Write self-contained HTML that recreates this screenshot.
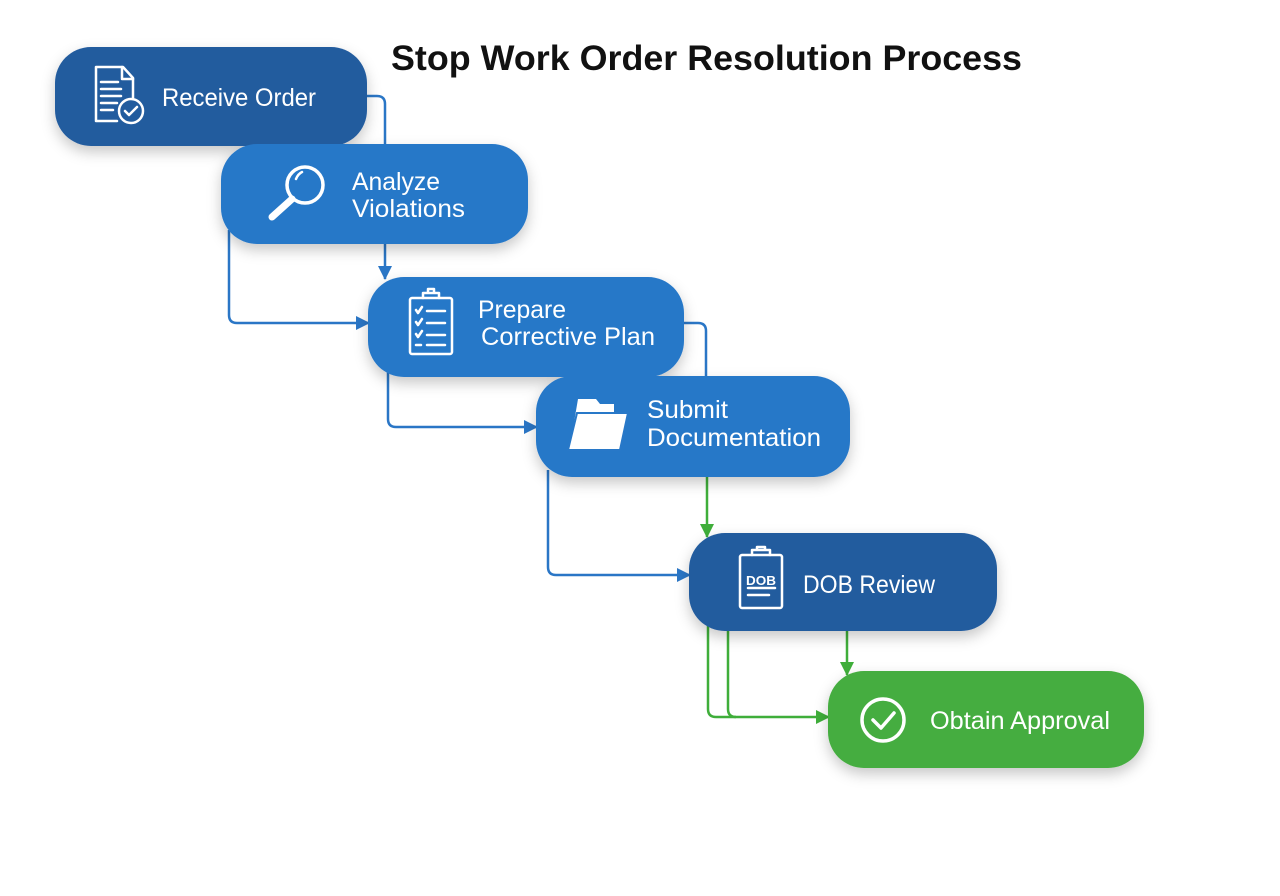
<!DOCTYPE html>
<html><head><meta charset="utf-8"><style>
html,body{margin:0;padding:0;background:#fff;}
svg{display:block;}
text{font-family:"Liberation Sans",sans-serif;}
</style></head><body>
<svg width="1280" height="896" viewBox="0 0 1280 896" xmlns="http://www.w3.org/2000/svg">
<defs>
<filter id="sh" x="-20%" y="-30%" width="140%" height="170%"><feDropShadow dx="0" dy="6" stdDeviation="7" flood-color="#000" flood-opacity="0.22"/></filter>
<marker id="ab" markerWidth="14" markerHeight="14" refX="13" refY="7" orient="auto" markerUnits="userSpaceOnUse"><path d="M0,0 L14,7 L0,14 Z" fill="#2a76c6"/></marker>
<marker id="ag" markerWidth="14" markerHeight="14" refX="13" refY="7" orient="auto" markerUnits="userSpaceOnUse"><path d="M0,0 L14,7 L0,14 Z" fill="#3fae3a"/></marker>
</defs>
<text x="391" y="70" font-size="35" font-weight="bold" fill="#111" textLength="631" lengthAdjust="spacingAndGlyphs">Stop Work Order Resolution Process</text>

<g fill="none" stroke-width="2.5">
<path d="M367,96 H377 Q385,96 385,104 V146" stroke="#2a76c6"/>
<path d="M385,244 V279" stroke="#2a76c6" marker-end="url(#ab)"/>
<path d="M229,230 V315 Q229,323 237,323 H369" stroke="#2a76c6" marker-end="url(#ab)"/>
<path d="M684,323 H698 Q706,323 706,331 V378" stroke="#2a76c6"/>
<path d="M388,370 V419 Q388,427 396,427 H537" stroke="#2a76c6" marker-end="url(#ab)"/>
<path d="M548,470 V567 Q548,575 556,575 H690" stroke="#2a76c6" marker-end="url(#ab)"/>
<path d="M707,477 V537" stroke="#3fae3a" marker-end="url(#ag)"/>
<path d="M847,631 V675" stroke="#3fae3a" marker-end="url(#ag)"/>
<path d="M708,625 V709 Q708,717 716,717 H829" stroke="#3fae3a" marker-end="url(#ag)"/>
<path d="M728,625 V709 Q728,717 736,717" stroke="#3fae3a"/>
</g>

<g filter="url(#sh)">
<rect x="55" y="47" width="312" height="99" rx="36" fill="#245b9e"/>
<rect x="221" y="144" width="307" height="100" rx="36" fill="#2878c8"/>
<rect x="368" y="277" width="316" height="100" rx="36" fill="#2878c8"/>
<rect x="536" y="376" width="314" height="101" rx="36" fill="#2878c8"/>
<rect x="689" y="533" width="308" height="98" rx="36" fill="#245b9e"/>
<rect x="828" y="671" width="316" height="97" rx="36" fill="#45ad3f"/>
</g>

<g fill="none" stroke="#fff" stroke-width="2.5" stroke-linecap="round" stroke-linejoin="round">
<path d="M117,121 H96 V67 H123 L133,78 V98"/><path d="M122,67 V79 H133"/>
<path d="M101,82 H118 M101,89 H121 M101,96 H121 M101,103 H117 M101,110 H113"/>
<circle cx="131" cy="111" r="12" stroke-width="2.5"/><path d="M125,111 L129,115 L137,107"/>
<circle cx="305" cy="185" r="18" stroke-width="3.5"/>
<path d="M292,199 L272,217" stroke-width="7"/>
<path d="M296,179 Q298,174 302,172"/>
<rect x="410" y="298" width="42" height="56" rx="2"/><path d="M423,298 V293 H439 V298 M428,293 V289 H434 V293"/>
<path d="M416,310 L418,313 L422,307 M416,322 L418,325 L422,319 M416,334 L418,337 L422,331 M416,345 H421 M427,311 H445 M427,323 H445 M427,335 H445 M427,345 H445"/>
<rect x="740" y="555" width="42" height="53" rx="2"/><path d="M752,555 V550 H770 V555 M757,550 V547 H765 V550"/>
<path d="M748,588 H775 M748,595 H769"/>
<circle cx="883" cy="720" r="21" stroke-width="3.5"/><path d="M873,720 L881,728 L894,713" stroke-width="3.5"/>
</g>
<text x="746" y="585" font-size="13" font-weight="bold" fill="#fff" textLength="30" lengthAdjust="spacingAndGlyphs">DOB</text>
<path d="M578,399 H596 L600,404 H614 V446 H570 Z" fill="#fff"/>
<path d="M577,413 H628 L620,450 H568 Z" fill="#fff" stroke="#2878c8" stroke-width="2"/>

<g fill="#fff" font-size="25">
<text x="162" y="106" textLength="154" lengthAdjust="spacingAndGlyphs">Receive Order</text>
<text x="352" y="190" textLength="88" lengthAdjust="spacingAndGlyphs">Analyze</text>
<text x="352" y="217" textLength="113" lengthAdjust="spacingAndGlyphs">Violations</text>
<text x="478" y="318" textLength="88" lengthAdjust="spacingAndGlyphs">Prepare</text>
<text x="481" y="345" textLength="174" lengthAdjust="spacingAndGlyphs">Corrective Plan</text>
<text x="647" y="418" textLength="81" lengthAdjust="spacingAndGlyphs">Submit</text>
<text x="647" y="446" textLength="174" lengthAdjust="spacingAndGlyphs">Documentation</text>
<text x="803" y="593" textLength="132" lengthAdjust="spacingAndGlyphs">DOB Review</text>
<text x="930" y="729" textLength="180" lengthAdjust="spacingAndGlyphs">Obtain Approval</text>
</g>
</svg>
</body></html>
